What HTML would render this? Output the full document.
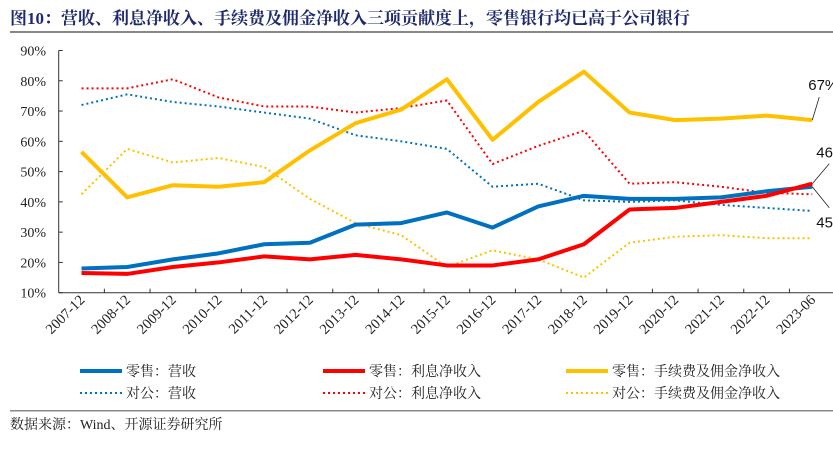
<!DOCTYPE html>
<html><head><meta charset="utf-8"><style>
body{margin:0;background:#fff;width:833px;height:445px;overflow:hidden;font-family:"Liberation Serif","Noto Serif CJK SC",serif}
svg text{font-family:"Liberation Serif","Noto Serif CJK SC",serif}
svg text.ann{font-family:"Liberation Sans","Noto Sans CJK SC",sans-serif}
</style></head><body>
<svg width="833" height="445">
<text x="10" y="24" font-size="17" font-weight="bold" fill="#1f2a6e">图10：营收、利息净收入、手续费及佣金净收入三项贡献度上，零售银行均已高于公司银行</text>
<rect x="10" y="31" width="823" height="2" fill="#888"/>
<g id="plot"></g>
<g id="legend"></g>
<rect x="10" y="410" width="823" height="1.5" fill="#888"/>
<text x="10" y="429" font-size="14" fill="#222">数据来源：Wind、开源证券研究所</text>
</svg>
<script>
const categories=["2007-12","2008-12","2009-12","2010-12","2011-12","2012-12","2013-12","2014-12","2015-12","2016-12","2017-12","2018-12","2019-12","2020-12","2021-12","2022-12","2023-06"];
const yTicks=[10,20,30,40,50,60,70,80,90];
const retailRevenue=[18,18.5,21,23,26,26.5,32.5,33,36.5,31.5,38.5,42,41,41,41.5,43.5,45];
const retailNII=[16.5,16.2,18.5,20,22,21,22.5,21,19,19,21,26,37.5,38,40,42,46];
const retailFees=[56.5,41.5,45.5,45,46.5,57,66,70.5,80.5,60.5,73,83,69.5,67,67.5,68.5,67];
const corpRevenue=[72,75.5,73,71.5,69.5,67.5,62,60,57.5,45,46,40.5,40,40.5,39,38,37];
const corpNII=[77.5,77.5,80.5,74.5,71.5,71.5,69.5,71,73.5,52.5,58.5,63.5,46,46.5,45,43,42.5];
const corpFees=[42.5,57.5,53,54.5,51.5,41,33,29,18.5,24,21,15,26.5,28.5,29,28,28];
const seriesNames=["零售：营收","零售：利息净收入","零售：手续费及佣金净收入","对公：营收","对公：利息净收入","对公：手续费及佣金净收入"];
const NS="http://www.w3.org/2000/svg";
const x0=58.7,step=45.67,yTop=50.5,yBot=292.7;
const xPos=i=>x0+step*(i+0.5);
const yPos=v=>yBot-(v-10)/80*(yBot-yTop);
const plot=document.getElementById('plot');
function mk(tag,attrs,parent){const e=document.createElementNS(NS,tag);for(const k in attrs)e.setAttribute(k,attrs[k]);(parent||plot).appendChild(e);return e;}
let ax=mk('line',{x1:x0,y1:yTop,x2:x0,y2:yBot,stroke:'#333','stroke-width':1});


let bx=mk('line',{x1:x0,y1:yBot,x2:833,y2:yBot,stroke:'#333','stroke-width':1});


yTicks.forEach(v=>{
 const t=mk('line',{x1:x0,y1:yPos(v),x2:x0+4,y2:yPos(v),stroke:'#333'});
 
 
 const l=mk('text',{x:46,y:yPos(v)+5,'font-size':14,'text-anchor':'end',fill:'#222'});
 l.textContent=v+'%';
 
 
});
categories.forEach((c,i)=>{
 const tx=x0+step*(i+1);
 const t=mk('line',{x1:tx,y1:yBot,x2:tx,y2:yBot-4,stroke:'#333'});
 
 
 const cx=xPos(i)+4,cy=yBot+8;
 const l=mk('text',{x:cx,y:cy,'font-size':14.5,'text-anchor':'end',fill:'#222',transform:`rotate(-45 ${cx} ${cy})`});
 l.textContent=c;
 
 
});
const styles=[
 {d:retailRevenue,c:'#0070c0',w:4,dash:null,n:'retail-revenue-line'},
 {d:retailNII,c:'#ff0000',w:4,dash:null,n:'retail-nii-line'},
 {d:retailFees,c:'#ffc000',w:4,dash:null,n:'retail-fees-line'},
 {d:corpRevenue,c:'#0070c0',w:2,dash:'2 3',n:'corp-revenue-line'},
 {d:corpNII,c:'#ff0000',w:2,dash:'2 3',n:'corp-nii-line'},
 {d:corpFees,c:'#ffc000',w:2,dash:'2 3',n:'corp-fees-line'}];
const order=[5,3,4,0,2,1];
order.forEach(k=>{const s=styles[k];
 const a={points:s.d.map((v,i)=>xPos(i)+','+yPos(v)).join(' '),fill:'none',stroke:s.c,'stroke-width':s.w,'stroke-linejoin':'round'};
 if(s.dash)a['stroke-dasharray']=s.dash;
 const p=mk('polyline',a);
 
 
});
const li=categories.length-1, lx=xPos(li);
const ann=[
 {v:retailFees[li],lx2:7,ly2:-23,tx:-4,ty:-30,txt:Math.round(retailFees[li])+'%'},
 {v:retailNII[li],lx2:17,ly2:-20,tx:4,ty:-26,txt:Math.round(retailNII[li])+'%'},
 {v:retailRevenue[li],lx2:17,ly2:21,tx:4,ty:41,txt:Math.round(retailRevenue[li])+'%'}];
ann.forEach(a=>{
 const y=yPos(a.v);
 const ln=mk('line',{x1:lx,y1:y,x2:lx+a.lx2,y2:y+a.ly2,stroke:'#222','stroke-width':0.8});
 
 
 const t=mk('text',{x:lx+a.tx,y:y+a.ty,'font-size':15,fill:'#111','class':'ann'});
 t.textContent=a.txt;
 
 
});
const lg=document.getElementById('legend');
styles.forEach((s,k)=>{
 const col=k%3,row=Math.floor(k/3);
 const x=80+col*243,y=371+row*22;
 const a={x1:x,y1:y,x2:x+42,y2:y,stroke:s.c,'stroke-width':s.w};
 if(s.dash)a['stroke-dasharray']=s.dash;
 const l=mk('line',a,lg);
 
 
 const t=mk('text',{x:x+46,y:y+5,'font-size':14,fill:'#222'},lg);
 t.textContent=seriesNames[k];
 
 
});
</script>
</body></html>
